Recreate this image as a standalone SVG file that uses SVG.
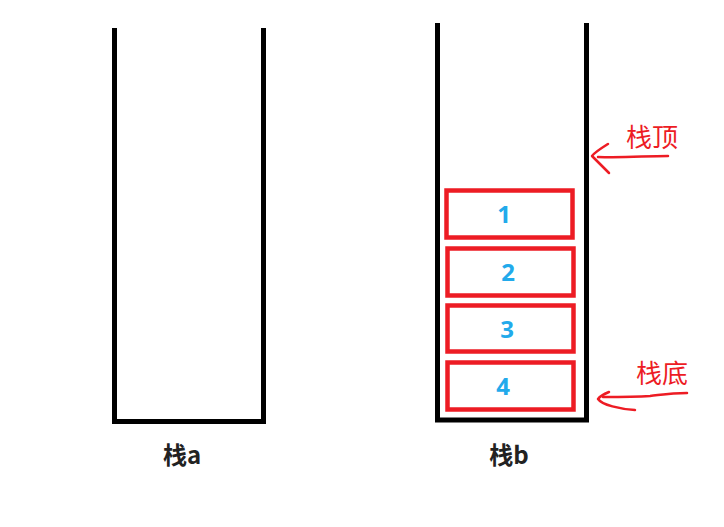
<svg xmlns="http://www.w3.org/2000/svg" width="724" height="527" viewBox="0 0 724 527">
<style>
.stack{fill:none;stroke:#000;stroke-width:5;stroke-linecap:butt}
.box{fill:none;stroke:#ed1c24;stroke-width:4.5}
.num{font-family:"Open Sans","Noto Sans",sans-serif;font-weight:bold;font-size:24px;fill:#22aaeb;text-anchor:middle}
.lbl{font-family:"Noto Sans CJK SC","Noto Sans",sans-serif;font-weight:bold;font-size:24px;fill:#222;text-anchor:middle}
.note{font-family:"Noto Sans CJK SC",sans-serif;font-size:26px;fill:#ed1c24}
.arr{fill:none;stroke:#ed1c24;stroke-width:2.5;stroke-linecap:round;stroke-linejoin:round}
</style>
<rect width="724" height="527" fill="#fff"/>
<g id="stack-a">
<path class="stack" d="M114.5,28 V421.5 H263.5 V28"/>
<text class="lbl" x="182" y="464">栈a</text>
</g>
<g id="stack-b">
<path class="stack" d="M437.5,23 V420 H586.5 V23"/>
<text class="lbl" x="509" y="464">栈b</text>
</g>
<g id="item-1">
<rect class="box" x="446.5" y="190.5" width="126" height="47"/>
<text class="num" x="504" y="223">1</text>
</g>
<g id="item-2">
<rect class="box" x="447.5" y="248.5" width="126" height="47"/>
<text class="num" x="508" y="281">2</text>
</g>
<g id="item-3">
<rect class="box" x="447.5" y="305.5" width="126" height="46"/>
<text class="num" x="507" y="338">3</text>
</g>
<g id="item-4">
<rect class="box" x="447.5" y="362.5" width="126" height="47"/>
<text class="num" x="503" y="395">4</text>
</g>
<g id="label-top">
<text class="note" x="626" y="147">栈顶</text>
</g>
<g id="label-bottom">
<text class="note" x="636" y="383">栈底</text>
</g>
<g id="connectors">
<path class="arr" d="M668,156 C645,156 625,158 598,157"/>
<path class="arr" d="M608,144 C600,149 595,152 592,156 C598,162 604,168 609,173"/>
<path class="arr" d="M687,393 C670,393 660,395 650,396 C635,397 620,397 603,397"/>
<path class="arr" d="M609,392 C604,394 600,396 598,399 C602,405 620,409 635,410"/>
</g>
</svg>
